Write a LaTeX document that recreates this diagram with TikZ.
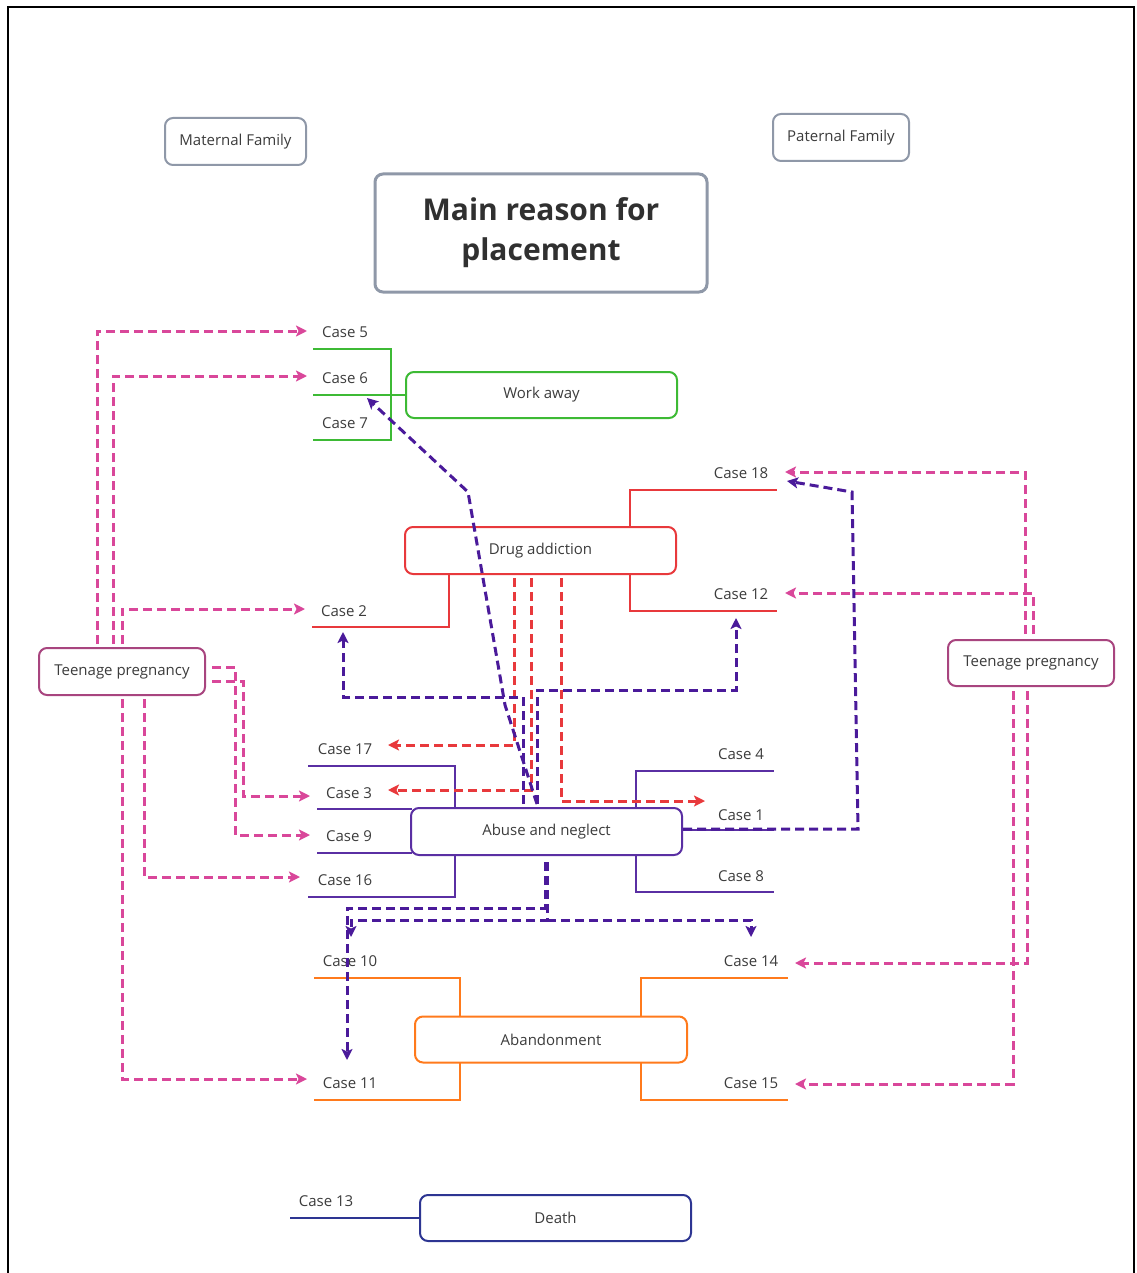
\documentclass[tikz,border=0pt]{standalone}
\usepackage{fontspec}
\setmainfont{Open Sans}
\usetikzlibrary{arrows.meta}
\definecolor{txt}{HTML}{3C3C3C}
\definecolor{grayline}{HTML}{8F98A8}
\definecolor{wgreen}{HTML}{3DBA35}
\definecolor{dred}{HTML}{E8393C}
\definecolor{abuse}{HTML}{5A2FA3}
\definecolor{violet}{HTML}{4A1A9A}
\definecolor{aband}{HTML}{FF7A1C}
\definecolor{navy}{HTML}{2D3592}
\definecolor{teen}{HTML}{A8457F}
\definecolor{pinkd}{HTML}{D9479A}
\begin{document}
\begin{tikzpicture}[x=1pt,y=-1pt,
  box/.style={draw, rounded corners=8pt, line width=2pt, fill=white,
    text=txt, font=\fontsize{15}{18}\selectfont, inner sep=2pt},
  case/.style={text=txt, font=\fontsize{15}{18}\selectfont, inner sep=0pt},
  bracket/.style={line width=1.8pt},
  dashline/.style={line width=3pt, dash pattern=on 9pt off 5pt,
    -{Stealth[length=11pt,width=11pt,inset=2.5pt]}},
  pinkarr/.style={dashline, pinkd},
  redarr/.style={dashline, dred},
  purparr/.style={dashline, violet}]
\useasboundingbox (0,0) rectangle (1136,1273);
% outer frame
\draw[line width=2pt] (8,1273) -- (8,7) -- (1134,7) -- (1134,1273);

% headings
\node[box, draw=grayline, minimum width=141pt, minimum height=47pt] (mat) at (235.5,141.5) {Maternal Family};
\node[box, draw=grayline, minimum width=136pt, minimum height=47pt] (pat) at (841,137.5) {Paternal Family};
\node[box, draw=grayline, line width=3pt, minimum width=332pt, minimum height=118pt, align=center,
  text=txt!80!black, font=\fontsize{30}{40}\selectfont\bfseries] (title) at (541,233) {Main reason for\\placement};

% reason boxes
\node[box, draw=wgreen, minimum width=271pt, minimum height=46pt] (work) at (541.5,395) {Work away};
\node[box, draw=dred, minimum width=271pt, minimum height=47pt] (drug) at (540.5,550.5) {Drug addiction};
\node[box, draw=abuse, minimum width=271pt, minimum height=47pt] (abuse) at (546.5,831.5) {Abuse and neglect};
\node[box, draw=aband, minimum width=272pt, minimum height=46pt] (aband) at (551,1039.5) {Abandonment};
\node[box, draw=navy, minimum width=271pt, minimum height=46pt] (death) at (555.5,1218) {Death};
\node[box, draw=teen, minimum width=166pt, minimum height=47pt] (teenL) at (122,671.5) {Teenage pregnancy};
\node[box, draw=teen, minimum width=166pt, minimum height=46pt] (teenR) at (1031,663) {Teenage pregnancy};

% case labels
\node[case] (c5) at (345,332) {Case 5};
\node[case] (c6) at (345,378) {Case 6};
\node[case] (c7) at (345,423) {Case 7};
\node[case] (c18) at (741,473) {Case 18};
\node[case] (c12) at (741,594) {Case 12};
\node[case] (c2) at (344,611) {Case 2};
\node[case] (c17) at (345,749) {Case 17};
\node[case] (c3) at (349,793) {Case 3};
\node[case] (c9) at (349,836) {Case 9};
\node[case] (c16) at (345,880) {Case 16};
\node[case] (c4) at (741,754) {Case 4};
\node[case] (c1) at (741,815) {Case 1};
\node[case] (c8) at (741,876) {Case 8};
\node[case] (c10) at (350,961) {Case 10};
\node[case] (c11) at (350,1083) {Case 11};
\node[case] (c14) at (751,961) {Case 14};
\node[case] (c15) at (751,1083) {Case 15};
\node[case] (c13) at (326,1201) {Case 13};

% brackets: work away
\draw[bracket, wgreen] (313,349) -- (391,349) -- (391,440) -- (313,440);
\draw[bracket, wgreen] (313,395) -- (work.west);
% brackets: drug addiction
\draw[bracket, dred] (630,527) -- (630,490) -- (777,490);
\draw[bracket, dred] (630,574) -- (630,611) -- (777,611);
\draw[bracket, dred] (449,574) -- (449,627) -- (312,627);
% brackets: abuse and neglect
\draw[bracket, abuse] (455,808) -- (455,766) -- (308,766);
\draw[bracket, abuse] (317,809) -- (412,809);
\draw[bracket, abuse] (317,853) -- (412,853);
\draw[bracket, abuse] (455,855) -- (455,897) -- (308,897);
\draw[bracket, abuse] (636,808) -- (636,771) -- (774,771);
\draw[bracket, abuse] (682,830) -- (774,830);
\draw[bracket, abuse] (636,855) -- (636,892) -- (774,892);
% brackets: abandonment
\draw[bracket, aband] (460,1016) -- (460,978) -- (314,978);
\draw[bracket, aband] (460,1063) -- (460,1100) -- (314,1100);
\draw[bracket, aband] (641,1016) -- (641,978) -- (788,978);
\draw[bracket, aband] (641,1063) -- (641,1100) -- (788,1100);
% bracket: death
\draw[bracket, navy] (290,1218) -- (death.west);

% teenage pregnancy (maternal side)
\draw[pinkarr] (97,644) -- (97,331) -- (307,331);
\draw[pinkarr] (113,644) -- (113,376) -- (307,376);
\draw[pinkarr] (122,644) -- (122,609) -- (305,609);
\draw[pinkarr] (212,667) -- (235,667) -- (235,835) -- (310,835);
\draw[pinkarr] (212,681) -- (243,681) -- (243,796) -- (310,796);
\draw[pinkarr] (122,699) -- (122,1079) -- (307,1079);
\draw[pinkarr] (144,699) -- (144,877) -- (300,877);
% teenage pregnancy (paternal side)
\draw[pinkarr] (1025,634) -- (1025,472) -- (785,472);
\draw[pinkarr] (1033,634) -- (1033,593) -- (785,593);
\draw[pinkarr] (1013,691) -- (1013,1084) -- (795,1084);
\draw[pinkarr] (1027,691) -- (1027,963) -- (795,963);

% drug addiction links
\draw[redarr] (514,578) -- (514,745) -- (388,745);
\draw[redarr] (531,578) -- (531,790) -- (388,790);
\draw[redarr] (561,578) -- (561,801) -- (705,801);

% abuse and neglect links
\draw[purparr] (537,804) -- (505,705) -- (468,492) -- (367,398);
\draw[purparr] (523,804) -- (523,697) -- (343,697) -- (343,632);
\draw[purparr] (537,804) -- (537,690) -- (736,690) -- (736,618);
\draw[purparr] (683,829) -- (858,829) -- (852,492) -- (787,481);
\draw[purparr] (545,862) -- (545,908) -- (347,908) -- (347,1060);
\draw[purparr] (547,862) -- (547,920) -- (351,920) -- (351,937);
\draw[purparr] (547,920) -- (751,920) -- (751,937);
\end{tikzpicture}
\end{document}
